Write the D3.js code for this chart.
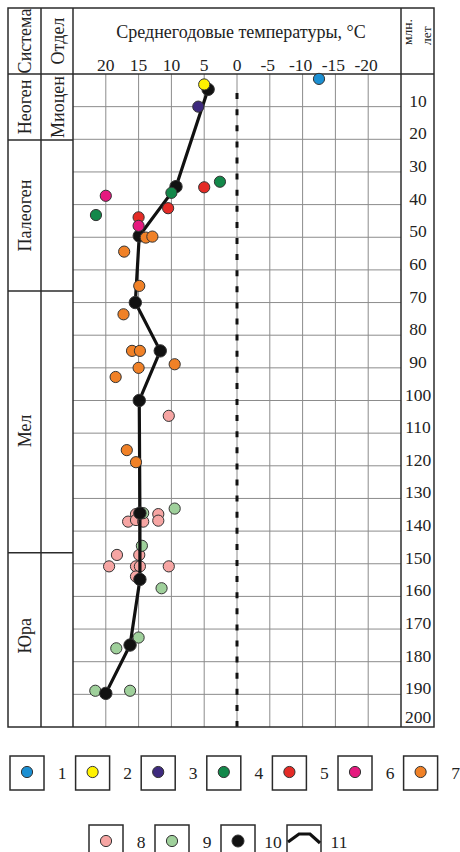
<!DOCTYPE html>
<html><head><meta charset="utf-8">
<script src="https://cdn.jsdelivr.net/npm/d3@7/dist/d3.min.js"></script>
<style>
html,body{margin:0;padding:0;background:#fff;}
</style></head>
<body><svg id="c" width="460" height="852" font-family="'Liberation Serif', 'Times New Roman', 'DejaVu Serif', serif"></svg>
<script>
// ---- data ----
const tempTicks = [20, 15, 10, 5, 0, -5, -10, -15, -20];
const ageTicks = [10,20,30,40,50,60,70,80,90,100,110,120,130,140,150,160,170,180,190,200];
const systems = ["Неоген", "Палеоген", "Мел", "Юра"];
const systemBounds = [0, 20.2, 66.5, 146.6, 200];
const departments = ["Миоцен", "", "", ""];
const seriesNames = ["1","2","3","4","5","6","7","8","9","10","11"];
const seriesColors = ["#1b8fd2","#fff200","#3e2a7e","#13884a","#e42b26","#e5197f","#f08127","#f6a5a3","#9fd09b","#111111"];
// [temperature °C, age Ma]
const s1 = [[-12.5, 1.5]];
const s2 = [[5.0, 3.2]];
const s3 = [[5.9, 10.0]];
const s4 = [[2.6, 33.0],[10.0, 36.4],[21.5, 43.2]];
const s5 = [[5.0, 34.7],[10.5, 41.1],[15.0, 43.9]];
const s6 = [[20.0, 37.3],[15.0, 46.5]];
const s7 = [[13.9, 50.1],[12.9, 49.8],[17.2, 54.4],[14.9, 64.9],[17.3, 73.6],[16.0, 84.8],[14.8, 84.8],
            [15.0, 90.0],[9.5, 88.9],[18.5, 92.8],[16.8, 115.2],[15.4, 118.9]];
const s8 = [[10.4, 104.7],[15.4, 134.8],[16.6, 137.1],[15.4, 136.6],[14.3, 137.1],[12.0, 134.8],[12.0, 136.8],
            [18.3, 147.3],[14.9, 147.3],[19.5, 150.8],[15.4, 150.8],[14.8, 150.8],[10.4, 150.8],[15.4, 153.9]];
const s9 = [[9.5, 133.1],[14.3, 134.5],[14.5, 144.5],[11.5, 157.5],[15.0, 172.6],[18.4, 175.9],[21.6, 188.9],[16.3, 188.9]];
const s10 = [[4.4, 4.7],[9.3, 34.5],[14.9, 49.6],[15.5, 70.0],[11.7, 84.8],[14.9, 100.0],[14.8, 134.5],
             [14.8, 154.8],[16.3, 174.9],[20.0, 189.7]];

// ---- layout ----
const svg = d3.select("#c");
const L = 8, C1 = 41, PL = 73, PR = 401, R = 434, T = 8, HB = 74, B = 727;
const x = d3.scaleLinear().domain([25, -25]).range([PL, PR]);
const y = d3.scaleLinear().domain([0, 200]).range([HB, B]);
const dark = "#2b2b2b", grid = "#8c8c8c", ink = "#222";

// grid
svg.append("g").selectAll("line").data(tempTicks).join("line")
  .attr("x1", d => x(d)).attr("x2", d => x(d)).attr("y1", HB).attr("y2", B)
  .attr("stroke", grid).attr("stroke-width", 1);
svg.append("g").selectAll("line").data(ageTicks.slice(0, -1)).join("line")
  .attr("x1", PL).attr("x2", PR).attr("y1", d => y(d)).attr("y2", d => y(d))
  .attr("stroke", grid).attr("stroke-width", 1);

// zero dashed line
svg.append("line").attr("x1", x(0)).attr("x2", x(0)).attr("y1", B).attr("y2", y(3))
  .attr("stroke", "#111").attr("stroke-width", 3).attr("stroke-dasharray", "6,10.1");

// frame
const fr = svg.append("g").attr("stroke", dark).attr("stroke-width", 1.5).attr("fill", "none");
fr.append("rect").attr("x", L).attr("y", T).attr("width", R - L).attr("height", B - T);
[C1, PL, PR].forEach(v => fr.append("line").attr("x1", v).attr("x2", v).attr("y1", T).attr("y2", B));
fr.append("line").attr("x1", L).attr("x2", R).attr("y1", HB).attr("y2", HB);
systemBounds.slice(1, -1).forEach(a => fr.append("line").attr("x1", L).attr("x2", PL).attr("y1", y(a)).attr("y2", y(a)));

// header texts
const vt = (tx, cx, cy, size) => svg.append("text").text(tx)
  .attr("transform", `translate(${cx},${cy}) rotate(-90)`)
  .attr("text-anchor", "middle").attr("dominant-baseline", "central")
  .attr("font-size", size).attr("fill", ink);
vt("Система", 25, 41, 18);
vt("Отдел", 58, 41, 18);
svg.append("text").text("Среднегодовые температуры, °С")
  .attr("x", 241).attr("y", 38).attr("text-anchor", "middle").attr("font-size", 18).attr("fill", ink);
svg.append("g").selectAll("text").data(tempTicks).join("text")
  .text(d => d).attr("x", d => x(d) - (d < 0 ? 2 : 0)).attr("y", 71)
  .attr("text-anchor", "middle").attr("font-size", 17.5).attr("fill", ink);
svg.append("text").text("млн.").attr("transform", "translate(412,45) rotate(-90)")
  .attr("font-size", 13.5).attr("fill", ink);
svg.append("text").text("лет").attr("transform", "translate(431,45) rotate(-90)")
  .attr("font-size", 13.5).attr("fill", ink);

// age labels
svg.append("g").selectAll("text").data(ageTicks).join("text")
  .text(d => d).attr("x", 418).attr("y", d => Math.min(y(d), B - 4))
  .attr("text-anchor", "middle").attr("font-size", 17.5).attr("fill", ink);

// stratigraphy
const nudge = [0, 0, 9, -4];
systems.forEach((s, i) => {
  const cy = (y(systemBounds[i]) + y(systemBounds[i + 1])) / 2 + nudge[i];
  vt(s, 25, cy, 18);
  if (departments[i]) vt(departments[i], 58, cy, 18);
});

// points
const pts = (data, color, r) => svg.append("g").selectAll("circle").data(data).join("circle")
  .attr("cx", d => x(d[0])).attr("cy", d => y(d[1])).attr("r", r)
  .attr("fill", color).attr("stroke", "#333").attr("stroke-width", 1);
pts(s8, seriesColors[7], 5.6);
pts(s9, seriesColors[8], 5.6);
svg.append("path").datum(s10)
  .attr("d", d3.line().x(d => x(d[0])).y(d => y(d[1])))
  .attr("fill", "none").attr("stroke", "#111").attr("stroke-width", 3.2).attr("stroke-linejoin", "round");
pts(s10, seriesColors[9], 6.2);
[s1, s2, s3, s4, s5, s6, s7].forEach((s, i) => pts(s, seriesColors[i], 5.6));

// legend
const lg = svg.append("g");
const row1 = seriesNames.slice(0, 7), row2 = seriesNames.slice(7);
const item = (name, bx, by, idx) => {
  lg.append("rect").attr("x", bx).attr("y", by).attr("width", 34).attr("height", 34)
    .attr("fill", "none").attr("stroke", dark).attr("stroke-width", 1.5);
  if (idx < 10) {
    lg.append("circle").attr("cx", bx + 17).attr("cy", by + 16).attr("r", idx === 9 ? 6 : 5.6)
      .attr("fill", seriesColors[idx]).attr("stroke", "#333").attr("stroke-width", 1);
  } else {
    lg.append("path").attr("d", `M${bx + 1},${by + 17}L${bx + 12},${by + 9}L${bx + 23},${by + 9}L${bx + 33},${by + 18}`)
      .attr("fill", "none").attr("stroke", "#111").attr("stroke-width", 3.2);
  }
  lg.append("text").text(name).attr("x", bx + 52).attr("y", by + 23)
    .attr("text-anchor", "middle").attr("font-size", 17.5).attr("fill", ink);
};
row1.forEach((n, i) => item(n, 10 + i * 65.6, 756, i));
row2.forEach((n, j) => item(n, 89 + j * 66, 825, 7 + j));
</script></body></html>
